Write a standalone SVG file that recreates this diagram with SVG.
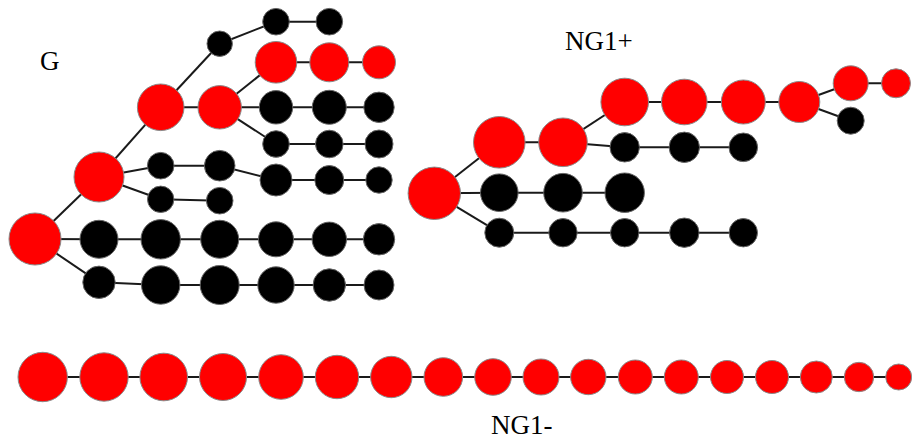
<svg xmlns="http://www.w3.org/2000/svg" width="912" height="441" viewBox="0 0 912 441">
  <style>
    .edge { stroke: #1a1a1a; stroke-width: 2; fill: none; }
    .red { fill: #ff0000; stroke: #8a8a8a; stroke-width: 1; }
    .blk { fill: #000000; stroke: #666666; stroke-width: 1; }
    .lbl { font-family: "Liberation Serif", "DejaVu Serif", serif; font-size: 27px; fill: #000; }
  </style>
  <rect width="912" height="441" fill="#ffffff"/>

  <!-- connectors -->
  <g id="edges" class="edge">
    <!-- tree G -->
    <line x1="35" y1="239" x2="99" y2="177"/>
    <line x1="35" y1="239" x2="99" y2="239.3"/>
    <line x1="35" y1="239" x2="99" y2="282.3"/>
    <line x1="99" y1="177" x2="160.7" y2="107.3"/>
    <line x1="99" y1="177" x2="160.7" y2="165.7"/>
    <line x1="99" y1="177" x2="160.7" y2="199.3"/>
    <line x1="160.7" y1="107.3" x2="219.7" y2="107.3"/>
    <line x1="160.7" y1="107.3" x2="219.7" y2="43.7"/>
    <line x1="219.7" y1="43.7" x2="276" y2="21.7"/>
    <line x1="276" y1="21.7" x2="329.3" y2="21.7"/>
    <line x1="219.7" y1="107.3" x2="276" y2="62.3"/>
    <line x1="276" y1="62.3" x2="379" y2="62.3"/>
    <line x1="219.7" y1="107.3" x2="379" y2="107.3"/>
    <line x1="219.7" y1="107.3" x2="276" y2="144"/>
    <line x1="276" y1="144" x2="379" y2="144"/>
    <line x1="160.7" y1="165.7" x2="219.7" y2="165.7"/>
    <line x1="219.7" y1="165.7" x2="276" y2="180"/>
    <line x1="276" y1="180" x2="379" y2="180"/>
    <line x1="160.7" y1="199.3" x2="219.7" y2="200.7"/>
    <line x1="99" y1="239.3" x2="379" y2="239.3"/>
    <line x1="99" y1="282.3" x2="160.7" y2="285"/>
    <line x1="160.7" y1="285" x2="379" y2="285"/>
    <!-- tree NG1+ -->
    <line x1="434.3" y1="193.3" x2="499.3" y2="142.3"/>
    <line x1="434.3" y1="193.3" x2="499.3" y2="192.7"/>
    <line x1="434.3" y1="193.3" x2="499.3" y2="232.7"/>
    <line x1="499.3" y1="142.3" x2="563" y2="142.3"/>
    <line x1="563" y1="142.3" x2="624.7" y2="102"/>
    <line x1="563" y1="142.3" x2="624.7" y2="147.3"/>
    <line x1="624.7" y1="102" x2="799.3" y2="102"/>
    <line x1="799.3" y1="102" x2="850.7" y2="83.3"/>
    <line x1="850.7" y1="83.3" x2="896" y2="83.3"/>
    <line x1="799.3" y1="102" x2="850.7" y2="120.7"/>
    <line x1="624.7" y1="147.3" x2="743.3" y2="147.3"/>
    <line x1="499.3" y1="192.7" x2="624.7" y2="192.7"/>
    <line x1="499.3" y1="232.7" x2="743.3" y2="232.7"/>
    <!-- chain NG1- -->
    <line x1="42.7" y1="377" x2="898.7" y2="377"/>
  </g>

  <!-- tree G nodes -->
  <g id="g0"><circle class="red" cx="35" cy="239" r="26"/></g>
  <g id="g1"><circle class="red" cx="99" cy="177" r="25"/></g>
  <g id="g2"><circle class="red" cx="160.7" cy="107.3" r="23.3"/></g>
  <g id="g3"><circle class="red" cx="219.7" cy="107.3" r="21.7"/></g>
  <g id="g4"><circle class="blk" cx="219.7" cy="43.7" r="12.7"/></g>
  <g id="g5"><circle class="blk" cx="276" cy="21.7" r="13.3"/></g>
  <g id="g6"><circle class="blk" cx="329.3" cy="21.7" r="13.3"/></g>
  <g id="g7"><circle class="red" cx="276" cy="62.3" r="20.8"/></g>
  <g id="g8"><circle class="red" cx="329.3" cy="62.3" r="19.5"/></g>
  <g id="g9"><circle class="red" cx="379" cy="62.3" r="16.5"/></g>
  <g id="g10"><circle class="blk" cx="276" cy="107.3" r="16.7"/></g>
  <g id="g11"><circle class="blk" cx="329.3" cy="107.3" r="17"/></g>
  <g id="g12"><circle class="blk" cx="379" cy="107.3" r="15.2"/></g>
  <g id="g13"><circle class="blk" cx="276" cy="144" r="13.3"/></g>
  <g id="g14"><circle class="blk" cx="329.3" cy="144" r="13.8"/></g>
  <g id="g15"><circle class="blk" cx="379" cy="144" r="14"/></g>
  <g id="g16"><circle class="blk" cx="160.7" cy="165.7" r="13.3"/></g>
  <g id="g17"><circle class="blk" cx="219.7" cy="165.7" r="15.3"/></g>
  <g id="g18"><circle class="blk" cx="276" cy="180" r="16"/></g>
  <g id="g19"><circle class="blk" cx="329.3" cy="180" r="14.5"/></g>
  <g id="g20"><circle class="blk" cx="379" cy="180" r="13.2"/></g>
  <g id="g21"><circle class="blk" cx="160.7" cy="199.3" r="13.2"/></g>
  <g id="g22"><circle class="blk" cx="219.7" cy="200.7" r="13.3"/></g>
  <g id="g23"><circle class="blk" cx="99" cy="239.3" r="19"/></g>
  <g id="g24"><circle class="blk" cx="160.7" cy="239.3" r="19.7"/></g>
  <g id="g25"><circle class="blk" cx="219.7" cy="239.3" r="19"/></g>
  <g id="g26"><circle class="blk" cx="276" cy="239.3" r="17.5"/></g>
  <g id="g27"><circle class="blk" cx="329.3" cy="239.3" r="17.2"/></g>
  <g id="g28"><circle class="blk" cx="379" cy="239.3" r="15.7"/></g>
  <g id="g29"><circle class="blk" cx="99" cy="282.3" r="16.2"/></g>
  <g id="g30"><circle class="blk" cx="160.7" cy="285" r="19.2"/></g>
  <g id="g31"><circle class="blk" cx="219.7" cy="285" r="19.5"/></g>
  <g id="g32"><circle class="blk" cx="276" cy="285" r="18.2"/></g>
  <g id="g33"><circle class="blk" cx="329.3" cy="285" r="16.2"/></g>
  <g id="g34"><circle class="blk" cx="379" cy="285" r="15"/></g>

  <!-- tree NG1+ nodes -->
  <g id="n0"><circle class="red" cx="434.3" cy="193.3" r="26.2"/></g>
  <g id="n1"><circle class="red" cx="499.3" cy="142.3" r="25.8"/></g>
  <g id="n2"><circle class="red" cx="563" cy="142.3" r="24.3"/></g>
  <g id="n3"><circle class="red" cx="624.7" cy="102" r="23.8"/></g>
  <g id="n4"><circle class="red" cx="684.3" cy="102" r="22.8"/></g>
  <g id="n5"><circle class="red" cx="743.3" cy="102" r="22"/></g>
  <g id="n6"><circle class="red" cx="799.3" cy="102" r="20.5"/></g>
  <g id="n7"><circle class="red" cx="850.7" cy="83.3" r="17.5"/></g>
  <g id="n8"><circle class="red" cx="896" cy="83.3" r="14.5"/></g>
  <g id="n9"><circle class="blk" cx="850.7" cy="120.7" r="13.5"/></g>
  <g id="n10"><circle class="blk" cx="624.7" cy="147.3" r="14.7"/></g>
  <g id="n11"><circle class="blk" cx="684.3" cy="147.3" r="15.2"/></g>
  <g id="n12"><circle class="blk" cx="743.3" cy="147.3" r="14.3"/></g>
  <g id="n13"><circle class="blk" cx="499.3" cy="192.7" r="18.8"/></g>
  <g id="n14"><circle class="blk" cx="563" cy="192.7" r="19.3"/></g>
  <g id="n15"><circle class="blk" cx="624.7" cy="192.7" r="19.7"/></g>
  <g id="n16"><circle class="blk" cx="499.3" cy="232.7" r="14.5"/></g>
  <g id="n17"><circle class="blk" cx="563" cy="232.7" r="14.2"/></g>
  <g id="n18"><circle class="blk" cx="624.7" cy="232.7" r="14.2"/></g>
  <g id="n19"><circle class="blk" cx="684.3" cy="232.7" r="14.7"/></g>
  <g id="n20"><circle class="blk" cx="743.3" cy="232.7" r="14.2"/></g>

  <!-- chain NG1- nodes -->
  <g id="b0"><circle class="red" cx="42.7" cy="377" r="24.7"/></g>
  <g id="b1"><circle class="red" cx="104" cy="377" r="24.2"/></g>
  <g id="b2"><circle class="red" cx="163.7" cy="377" r="23.8"/></g>
  <g id="b3"><circle class="red" cx="223" cy="377" r="23.5"/></g>
  <g id="b4"><circle class="red" cx="281" cy="377" r="22.3"/></g>
  <g id="b5"><circle class="red" cx="337" cy="377" r="21.7"/></g>
  <g id="b6"><circle class="red" cx="391.3" cy="377" r="20.7"/></g>
  <g id="b7"><circle class="red" cx="443.3" cy="377" r="19.3"/></g>
  <g id="b8"><circle class="red" cx="493" cy="377" r="18.3"/></g>
  <g id="b9"><circle class="red" cx="541" cy="377" r="18"/></g>
  <g id="b10"><circle class="red" cx="588.3" cy="377" r="17.7"/></g>
  <g id="b11"><circle class="red" cx="635.3" cy="377" r="17"/></g>
  <g id="b12"><circle class="red" cx="681.3" cy="377" r="17"/></g>
  <g id="b13"><circle class="red" cx="727" cy="377" r="16.5"/></g>
  <g id="b14"><circle class="red" cx="772" cy="377" r="16.5"/></g>
  <g id="b15"><circle class="red" cx="816.3" cy="377" r="16"/></g>
  <g id="b16"><circle class="red" cx="859" cy="377" r="14.7"/></g>
  <g id="b17"><circle class="red" cx="898.7" cy="377" r="13"/></g>

  <!-- labels -->
  <text class="lbl" x="40" y="70">G</text>
  <text class="lbl" x="565" y="50">NG1+</text>
  <text class="lbl" x="491" y="434">NG1-</text>
</svg>
